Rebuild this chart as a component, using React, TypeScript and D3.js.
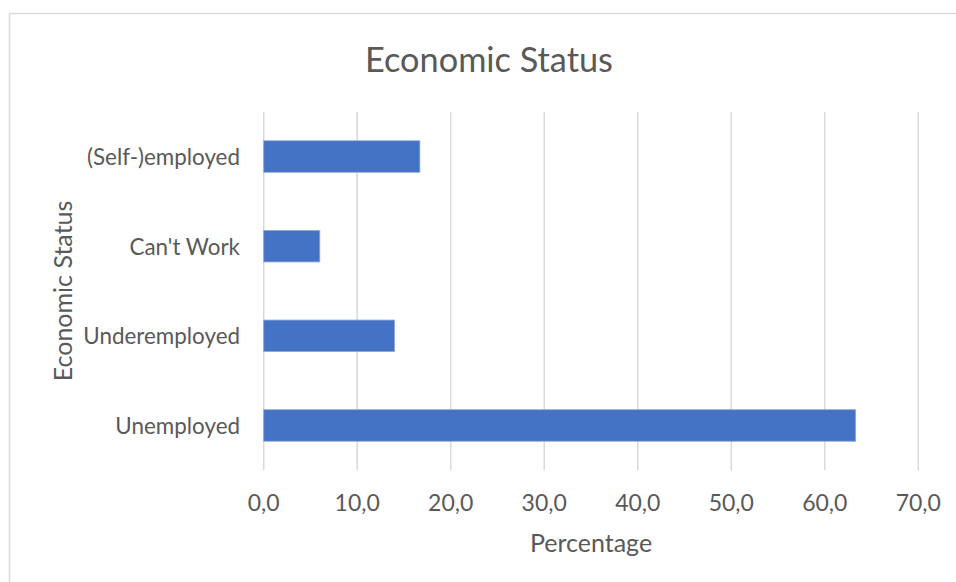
import React from "react";
import * as d3 from "d3";

const categories = ["(Self-)employed", "Can't Work", "Underemployed", "Unemployed"];
const values = [16.7, 6.0, 14.0, 63.3];
const xTicks = [0, 10, 20, 30, 40, 50, 60, 70];
const title = "Economic Status";
const xTitle = "Percentage";
const yTitle = "Economic Status";

const W = 956;
const H = 582;
const FONT = "Lato, 'Open Sans', sans-serif";
const TEXT = "#595959";
const GRID = "#d9d9d9";
const BAR = "#4472C4";

export default function App() {
  const x = d3.scaleLinear().domain([0, 70]).range([263.7, 918.3]);
  const y = d3
    .scaleBand<string>()
    .domain(categories)
    .range([111.7, 470.3])
    .paddingInner(0.648)
    .paddingOuter(0.324);
  const fmt = (v: number) => d3.format(".1f")(v).replace(".", ",");
  const plotTop = 111.7;
  const plotBottom = 470.3;

  return (
    <svg
      width={W}
      height={H}
      style={{ position: "absolute", left: 0, top: 0, background: "#fff" }}
      fontFamily={FONT}
    >
      <rect x={0} y={0} width={W} height={H} fill="#fff" />
      <rect x={9.5} y={13.5} width={W + 20} height={H + 20} fill="none" stroke={GRID} strokeWidth={1.5} />
      <text x={489} y={58} textAnchor="middle" dominantBaseline="central" fontSize={34.3} fill={TEXT}>
        {title}
      </text>
      {xTicks.map((t) => (
        <g key={t}>
          <line x1={x(t)} x2={x(t)} y1={plotTop} y2={plotBottom} stroke={GRID} strokeWidth={1.5} />
          <text x={x(t)} y={502} textAnchor="middle" dominantBaseline="central" fontSize={23} fill={TEXT}>
            {fmt(t)}
          </text>
        </g>
      ))}
      {categories.map((c, i) => (
        <g key={c}>
          <rect
            x={x(0)}
            y={y(c)!}
            width={x(values[i]) - x(0)}
            height={y.bandwidth()}
            fill={BAR}
            stroke="#8faadc"
            strokeWidth={0.8}
          />
          <text
            x={240}
            y={y(c)! + y.bandwidth() / 2}
            textAnchor="end"
            dominantBaseline="central"
            fontSize={22.4}
            fill={TEXT}
          >
            {c}
          </text>
        </g>
      ))}
      <text x={591} y={542} textAnchor="middle" dominantBaseline="central" fontSize={25} fill={TEXT}>
        {xTitle}
      </text>
      <text
        transform={`translate(62,${(plotTop + plotBottom) / 2}) rotate(-90)`}
        textAnchor="middle"
        dominantBaseline="central"
        fontSize={25}
        fill={TEXT}
      >
        {yTitle}
      </text>
    </svg>
  );
}
